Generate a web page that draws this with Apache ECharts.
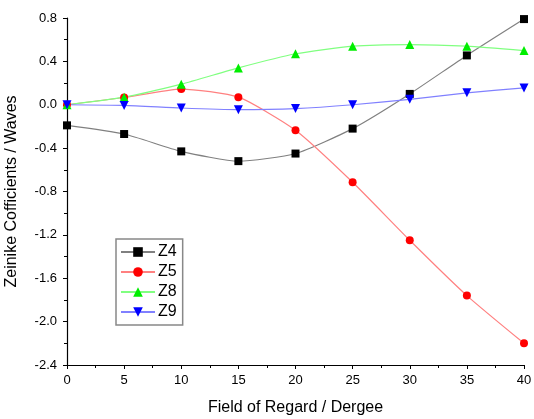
<!DOCTYPE html>
<html><head><meta charset="utf-8">
<script src="https://cdn.jsdelivr.net/npm/echarts@6/dist/echarts.min.js"></script>
<style>html,body{margin:0;padding:0;background:#fff}#c{width:534px;height:419px}</style>
</head><body><div id="c"></div>
<script>
const xValues = [0, 5, 10, 15, 20, 25, 30, 35, 40];
const z4 = [-0.19, -0.27, -0.43, -0.52, -0.45, -0.22, 0.10, 0.455, 0.79];
const z5 = [0.0, 0.067, 0.145, 0.07, -0.235, -0.715, -1.25, -1.76, -2.20];
const z8 = [0.0, 0.07, 0.19, 0.34, 0.47, 0.54, 0.555, 0.54, 0.50];
const z9 = [0.0, -0.006, -0.03, -0.045, -0.035, 0.0, 0.05, 0.11, 0.155];
const seriesNames = ['Z4', 'Z5', 'Z8', 'Z9'];

const font = 'Liberation Sans, Arial, sans-serif';
const chart = echarts.init(document.getElementById('c'));
function mk(name, data, lineColor, markColor, symbol, size) {
  return {
    name, type: 'line', smooth: 0.2, symbol, symbolSize: size,
    data: xValues.map((x, i) => [x, data[i]]),
    lineStyle: { color: lineColor, width: 1.2 },
    itemStyle: { color: markColor, borderColor: markColor, borderWidth: 0 },
    emphasis: { disabled: true }, clip: false
  };
}
chart.setOption({
  animation: false,
  backgroundColor: '#fff',
  grid: { left: 67, right: 10, top: 18, bottom: 54, containLabel: false, outerBoundsMode: 'none' },
  legend: {
    orient: 'vertical', left: 116, top: 239,
    data: seriesNames,
    itemWidth: 34, itemHeight: 12, itemGap: 4,
    padding: [5, 6, 5, 4],
    borderColor: '#888', borderWidth: 1.5, borderRadius: 0,
    backgroundColor: '#fff',
    textStyle: { fontFamily: font, fontSize: 16, color: '#000', padding: [0, 0, 0, -2] }
  },
  xAxis: {
    type: 'value', min: 0, max: 40, interval: 5,
    name: 'Field of Regard / Dergee', nameLocation: 'middle', nameGap: 35,
    nameTextStyle: { fontFamily: font, fontSize: 16, color: '#000' },
    axisLine: { onZero: false, lineStyle: { color: '#000', width: 1.2 } },
    axisTick: { length: 4, lineStyle: { color: '#000' } },
    minorTick: { show: true, splitNumber: 2, length: 3, lineStyle: { color: '#000' } },
    axisLabel: { fontFamily: font, fontSize: 13, color: '#000', margin: 9 },
    splitLine: { show: false }
  },
  yAxis: {
    type: 'value', min: -2.4, max: 0.8, interval: 0.4,
    name: 'Zeinike Cofficients / Waves', nameLocation: 'middle', nameGap: 47,
    nameTextStyle: { fontFamily: font, fontSize: 16, color: '#000' },
    axisLine: { show: true, onZero: false, lineStyle: { color: '#000', width: 1.2 } },
    axisTick: { show: true, length: 4, lineStyle: { color: '#000' } },
    minorTick: { show: true, splitNumber: 2, length: 3, lineStyle: { color: '#000' } },
    axisLabel: { fontFamily: font, fontSize: 13, color: '#000', margin: 10, formatter: v => v.toFixed(1) },
    splitLine: { show: false }
  },
  series: [
    mk('Z4', z4, '#808080', '#000', 'rect', 8),
    mk('Z5', z5, '#ff8080', '#ff0000', 'circle', 8),
    mk('Z8', z8, '#80ff80', '#00ee00', 'triangle', 9),
    mk('Z9', z9, '#8080ff', '#0000ff', 'path://M0,0L10,0L5,9Z', 9)
  ]
});
</script></body></html>
